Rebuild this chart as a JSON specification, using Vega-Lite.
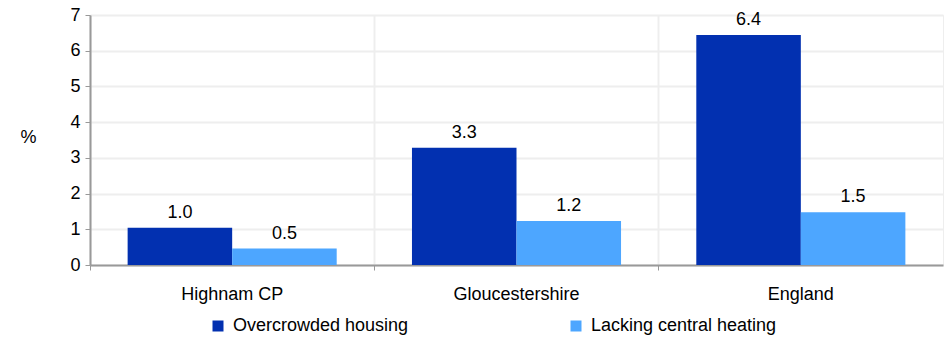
{
  "$schema": "https://vega.github.io/schema/vega-lite/v6.json",
  "width": 853,
  "height": 250,
  "autosize": "none",
  "padding": {"left": 90, "top": 15, "right": 6, "bottom": 74},
  "background": "white",
  "config": {
    "font": "Liberation Sans",
    "view": {"stroke": "#eeeeee"}
  },
  "data": {
    "values": [
      {"area": "Highnam CP", "measure": "Overcrowded housing", "value": 1.04},
      {"area": "Highnam CP", "measure": "Lacking central heating", "value": 0.46},
      {"area": "Gloucestershire", "measure": "Overcrowded housing", "value": 3.28},
      {"area": "Gloucestershire", "measure": "Lacking central heating", "value": 1.23},
      {"area": "England", "measure": "Overcrowded housing", "value": 6.44},
      {"area": "England", "measure": "Lacking central heating", "value": 1.48}
    ]
  },
  "encoding": {
    "x": {
      "field": "area", "type": "nominal", "sort": null,
      "scale": {"paddingInner": 0, "paddingOuter": 0},
      "axis": {
        "title": null, "labelAngle": 0, "labelFontSize": 18, "labelColor": "#000000",
        "bandPosition": 0, "tickSize": 5, "tickColor": "#999999", "domainColor": "#999999",
        "domainWidth": 2, "labelPadding": 15, "grid": true, "gridColor": "#eeeeee", "gridWidth": 2
      }
    },
    "xOffset": {
      "field": "measure", "type": "nominal", "sort": ["Overcrowded housing", "Lacking central heating"],
      "scale": {"paddingInner": 0, "paddingOuter": 0.36}
    },
    "y": {
      "field": "value", "type": "quantitative",
      "scale": {"domain": [0, 7], "nice": false},
      "axis": {
        "title": "%", "titleAngle": 0, "titleFontSize": 18, "titleFontWeight": "normal",
        "titleColor": "#000000", "titleX": -62, "titleY": 131, "titleAlign": "center",
        "labelFontSize": 18, "labelColor": "#000000", "values": [0, 1, 2, 3, 4, 5, 6, 7],
        "labelOverlap": false, "labelFlush": false,
        "tickSize": 5, "tickColor": "#999999", "domainColor": "#999999", "domainWidth": 2,
        "labelPadding": 5, "grid": true, "gridColor": "#eeeeee", "gridWidth": 2
      }
    }
  },
  "layer": [
    {
      "mark": {"type": "bar"},
      "encoding": {
        "color": {
          "field": "measure", "type": "nominal",
          "sort": ["Overcrowded housing", "Lacking central heating"],
          "scale": {"domain": ["Overcrowded housing", "Lacking central heating"], "range": ["#0230B0", "#4DA6FF"]},
          "legend": {
            "title": null, "orient": "none", "legendX": 119, "legendY": 302,
            "direction": "horizontal", "columns": 2, "symbolType": "square", "symbolSize": 121,
            "symbolStrokeWidth": 0,
            "labelFontSize": 18, "labelColor": "#000000", "labelLimit": 400,
            "columnPadding": 158, "labelOffset": 6
          }
        }
      }
    },
    {
      "mark": {"type": "text", "baseline": "bottom", "dy": -6, "fontSize": 18, "color": "#000000"},
      "encoding": {
        "text": {"field": "value", "type": "quantitative", "format": ".1f"}
      }
    }
  ]
}
